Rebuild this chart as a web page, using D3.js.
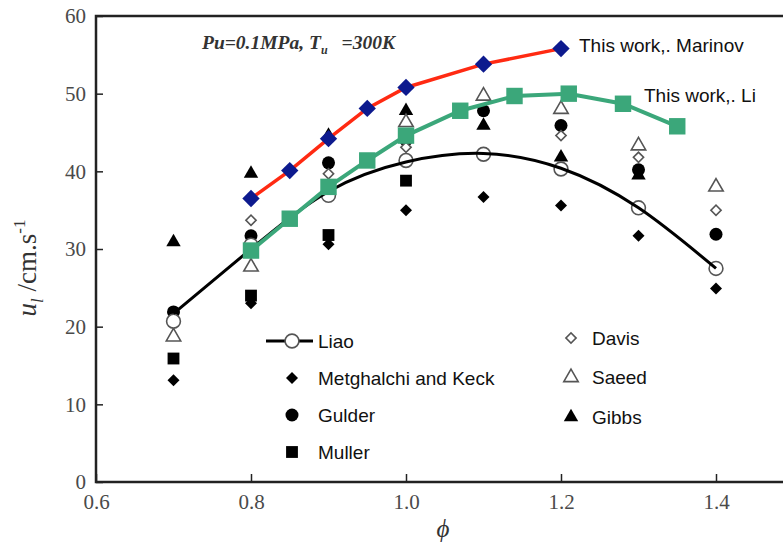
<!DOCTYPE html>
<html>
<head>
<meta charset="utf-8">
<script src="https://cdn.jsdelivr.net/npm/d3@7"></script>
<style>
  body { margin: 0; background: #fff; }
  .leg { font-family: "Liberation Sans", Arial, sans-serif; font-size: 19px; fill: #111; }
</style>
</head>
<body>
<div id="chart"></div>
<script>
// equivalence ratio values for the literature data
const phi = [0.7, 0.8, 0.9, 1.0, 1.1, 1.2, 1.3, 1.4];

// literature burning velocities (cm/s), null = no point
const liao = [20.7, 30.5, 36.9, 41.4, 42.2, 40.3, 35.3, 27.5];
const liaoFit = [21.7, 30.0, 37.4, 41.2, 42.3, 40.4, 35.3, 27.5];
const metghalchi = [13.1, 23.0, 30.6, 35.0, 36.7, 35.6, 31.7, 24.9];
const gulder = [21.9, 31.7, 41.1, 44.0, 47.8, 45.9, 40.2, 31.9];
const muller = [15.9, 24.0, 31.8, 38.8, null, null, null, null];
const davis = [null, 33.7, 39.7, 43.1, null, 44.6, 41.8, 35.0];
const saeed = [18.7, 27.7, null, 46.3, 49.7, 48.0, 43.3, 38.0];
const gibbs = [30.9, 39.7, 44.6, 47.8, 45.9, 41.8, 39.5, null];

// this work
const marinovPhi = [0.8, 0.85, 0.9, 0.95, 1.0, 1.1, 1.2];
const marinov = [36.5, 40.1, 44.2, 48.1, 50.8, 53.8, 55.8];
const liPhi = [0.8, 0.85, 0.9, 0.95, 1.0, 1.07, 1.14, 1.21, 1.28, 1.35];
const li = [29.8, 33.9, 38.0, 41.4, 44.6, 47.8, 49.7, 50.0, 48.7, 45.8];

const xTicks = [0.6, 0.8, 1.0, 1.2, 1.4];
const yTicks = [0, 10, 20, 30, 40, 50, 60];

const W = 783, H = 546;
const margin = { top: 16, left: 96 };
const innerW = 697.5, innerH = 466;
const serif = "'Liberation Serif', 'Times New Roman', serif";

const svg = d3.select("#chart").append("svg")
  .attr("width", W).attr("height", H);
const g = svg.append("g")
  .attr("transform", "translate(" + margin.left + "," + margin.top + ")");

const x = d3.scaleLinear().domain([0.6, 1.5]).range([0, innerW]);
const y = d3.scaleLinear().domain([0, 60]).range([innerH, 0]);

// axes, ticks pointing inward
const xAxis = d3.axisBottom(x).tickValues(xTicks).tickFormat(d3.format(".1f"))
  .tickSizeInner(-8).tickSizeOuter(0).tickPadding(12);
const yAxis = d3.axisLeft(y).tickValues(yTicks)
  .tickSizeInner(-7).tickSizeOuter(0).tickPadding(10);

const styleAxis = (a) => {
  a.select(".domain").remove();
  a.selectAll(".tick line").attr("stroke", "#222").attr("stroke-width", 1.5);
  a.selectAll(".tick text")
    .style("font-family", serif).style("font-size", "21px").style("fill", "#4a4a4a");
};
g.append("g").attr("transform", "translate(0," + innerH + ")").call(xAxis).call(styleAxis);
g.append("g").call(yAxis).call(styleAxis);

// frame
g.append("rect")
  .attr("x", x(0.6)).attr("y", y(60))
  .attr("width", x(1.5) - x(0.6)).attr("height", y(0) - y(60))
  .attr("fill", "none").attr("stroke", "#222").attr("stroke-width", 2.5);

// axis titles
const yl = svg.append("text")
  .attr("transform", "translate(36,268) rotate(-90)")
  .attr("text-anchor", "middle")
  .style("font-family", serif)
  .style("font-size", "27px").style("fill", "#333");
yl.append("tspan").style("font-style", "italic").text("u");
yl.append("tspan").attr("dy", 7).style("font-size", "17px").style("font-style", "italic").text("l");
yl.append("tspan").attr("dy", -7).text(" /cm.s");
yl.append("tspan").attr("dy", -11).style("font-size", "17px").text("-1");

svg.append("text")
  .attr("x", 443).attr("y", 537)
  .attr("text-anchor", "middle")
  .style("font-family", serif)
  .style("font-size", "25px").style("font-style", "italic").style("fill", "#333")
  .text("\u03d5");

// condition label
const tl = svg.append("text")
  .attr("x", 202).attr("y", 49)
  .style("font-family", serif)
  .style("font-size", "19.5px").style("font-style", "italic").style("font-weight", "bold")
  .style("fill", "#333");
tl.append("tspan").text("Pu=0.1MPa, T");
tl.append("tspan").attr("dy", 5).style("font-size", "12px").text("u");
tl.append("tspan").attr("dy", -5).attr("dx", 14).text("=300K");

// symbol helpers
const sym = (type, size) => d3.symbol().type(type).size(size)();
const shapes = {
  diamond: { d: sym(d3.symbolSquare, 72), rot: 45 },
  circle: { d: sym(d3.symbolCircle, 133), rot: 0 },
  square: { d: sym(d3.symbolSquare, 140), rot: 0 },
  odiamond: { d: sym(d3.symbolSquare, 52), rot: 45 },
  triangle: { d: sym(d3.symbolTriangle, 90), rot: 0 },
  ocircle: { d: sym(d3.symbolCircle, 150), rot: 0 },
};

const styleMark = (sel, kind) => {
  const open = kind === "odiamond" || kind === "ocircle" || kind === "otriangle";
  sel.attr("fill", open ? "#fff" : "#000")
    .attr("stroke", open ? "#555" : "none")
    .attr("stroke-width", open ? 1.6 : 0);
};

const drawPoints = (vals, kind) => {
  const shp = kind === "otriangle" ? shapes.triangle : shapes[kind];
  const pts = phi.map((p, i) => ({ p, v: vals[i] })).filter(d => d.v != null);
  g.append("g").selectAll("path").data(pts).enter().append("path")
    .attr("d", shp.d)
    .attr("transform", d => "translate(" + x(d.p) + "," + y(d.v) + ") rotate(" + shp.rot + ")")
    .call(styleMark, kind);
};

drawPoints(muller, "square");
drawPoints(metghalchi, "diamond");
drawPoints(gibbs, "triangle");
drawPoints(gulder, "circle");
drawPoints(saeed, "otriangle");
drawPoints(davis, "odiamond");
drawPoints(liao, "ocircle");

// Liao fitted curve
const line = d3.line().curve(d3.curveNatural)
  .x(d => x(d[0])).y(d => y(d[1]));
g.append("path")
  .attr("d", line(phi.map((p, i) => [p, liaoFit[i]])))
  .attr("fill", "none").attr("stroke", "#000").attr("stroke-width", 3);

// this work, Li
const lin = d3.line().x(d => x(d[0])).y(d => y(d[1]));
g.append("path")
  .attr("d", lin(liPhi.map((p, i) => [p, li[i]])))
  .attr("fill", "none").attr("stroke", "#3ba77a").attr("stroke-width", 4);
g.append("g").selectAll("path").data(liPhi.map((p, i) => [p, li[i]])).enter().append("path")
  .attr("d", sym(d3.symbolSquare, 270))
  .attr("transform", d => "translate(" + x(d[0]) + "," + y(d[1]) + ")")
  .attr("fill", "#3ba77a");

// this work, Marinov
g.append("path")
  .attr("d", lin(marinovPhi.map((p, i) => [p, marinov[i]])))
  .attr("fill", "none").attr("stroke", "#ff2a12").attr("stroke-width", 3.5);
g.append("g").selectAll("path").data(marinovPhi.map((p, i) => [p, marinov[i]])).enter().append("path")
  .attr("d", sym(d3.symbolSquare, 150))
  .attr("transform", d => "translate(" + x(d[0]) + "," + y(d[1]) + ") rotate(45)")
  .attr("fill", "#0d1a8e");

// series labels
svg.append("text").attr("class", "leg").attr("x", 579).attr("y", 52).text("This work,. Marinov");
svg.append("text").attr("class", "leg").attr("x", 644).attr("y", 102).text("This work,. Li");

// legend
const legL = [
  { name: "Liao", kind: "ocircle", line: true },
  { name: "Metghalchi and Keck", kind: "diamond" },
  { name: "Gulder", kind: "circle" },
  { name: "Muller", kind: "square" },
];
const legR = [
  { name: "Davis", kind: "odiamond" },
  { name: "Saeed", kind: "otriangle" },
  { name: "Gibbs", kind: "triangle" },
];

const drawLegend = (items, sx, tx, y0, step) => {
  items.forEach((it, i) => {
    const yy = y0 + i * step;
    if (it.line) {
      svg.append("line").attr("x1", sx - 26).attr("x2", sx + 21)
        .attr("y1", yy).attr("y2", yy).attr("stroke", "#000").attr("stroke-width", 3);
    }
    const shp = it.kind === "otriangle" ? shapes.triangle : shapes[it.kind];
    svg.append("path").attr("d", shp.d)
      .attr("transform", "translate(" + sx + "," + yy + ") rotate(" + shp.rot + ")")
      .call(styleMark, it.kind);
    svg.append("text").attr("class", "leg").attr("x", tx).attr("y", yy)
      .attr("dy", "0.35em").text(it.name);
  });
};
drawLegend(legL, 292, 318, 341, 37);
drawLegend(legR, 571, 592, 338, 39.5);
</script>
</body>
</html>
